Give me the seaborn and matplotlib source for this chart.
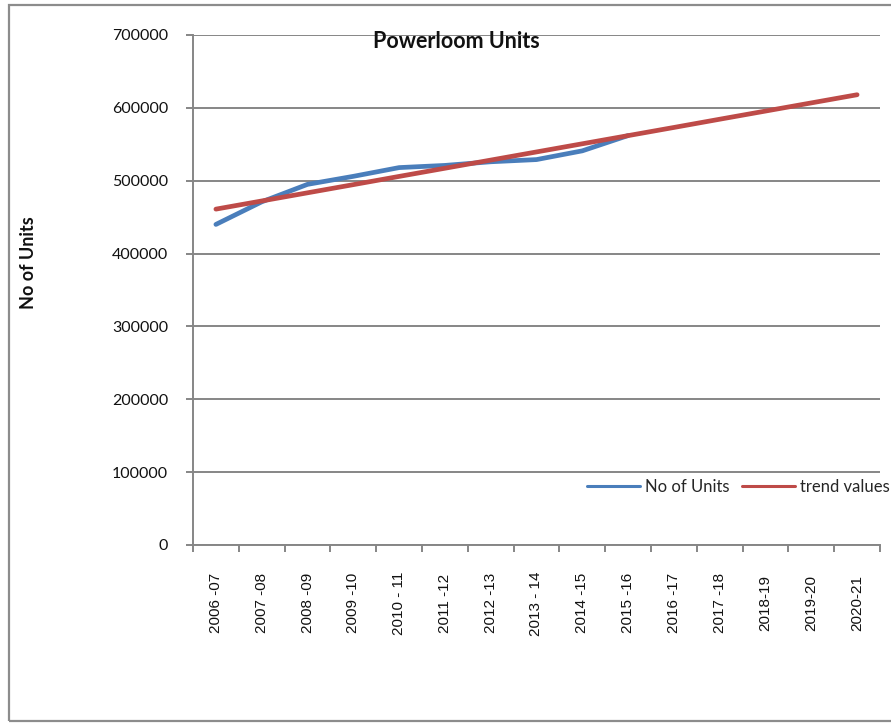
import matplotlib
matplotlib.use("Agg")
import matplotlib.pyplot as plt
import matplotlib.patches as mpatches
import seaborn as sns
import pandas as pd

# Powerloom units per year with fitted linear trend
years = ["2006 -07", "2007 -08", "2008 -09", "2009 -10", "2010 - 11",
         "2011 -12", "2012 -13", "2013 - 14", "2014 -15", "2015 -16",
         "2016 -17", "2017 -18", "2018-19", "2019-20", "2020-21"]
units = [440000, 471000, 495000, 506000, 518000,
         521000, 526000, 529000, 541000, 562000]
trend = [461000, 472200, 483400, 494600, 505900,
         517100, 528300, 539500, 550700, 561900,
         573100, 584400, 595600, 606800, 618000]
yticks = [0, 100000, 200000, 300000, 400000, 500000, 600000, 700000]

BLUE = "#4A7EBB"
RED = "#BE4B48"
GRID = "#868686"

sns.set_theme(style="white")
plt.rcParams["font.family"] = ["Lato", "DejaVu Sans"]

df = pd.DataFrame({
    "year": years[:len(units)] + years,
    "x": list(range(len(units))) + list(range(len(years))),
    "value": units + trend,
    "series": ["No of Units"] * len(units) + ["trend values"] * len(trend),
})

fig = plt.figure(figsize=(8.91, 7.25), dpi=100)
ax = fig.add_axes([193 / 891, 1 - 545 / 725, 687 / 891, 510 / 725])

sns.lineplot(data=df, x="x", y="value", hue="series",
             palette={"No of Units": BLUE, "trend values": RED},
             linewidth=3.4, ax=ax, legend=False, sort=False,
             solid_capstyle="round", solid_joinstyle="round")

ax.set_xlim(-0.5, len(years) - 0.5)
ax.set_ylim(0, 700000)
ax.set_yticks(yticks)
ax.set_yticklabels([str(v) for v in yticks], fontsize=11.5, color="#111111")
ax.yaxis.grid(True, color=GRID, linewidth=1.4)
ax.set_axisbelow(True)

# category ticks on boundaries, labels centred in each slot
ax.set_xticks([i - 0.5 for i in range(len(years) + 1)], minor=False)
ax.set_xticklabels([])
ax.set_xticks(range(len(years)), minor=True)
ax.set_xticklabels(years, minor=True, rotation=90, fontsize=11,
                   family="Liberation Sans", color="#111111", va="center")
ax.tick_params(axis="x", which="minor", length=0, pad=42)
ax.tick_params(axis="x", which="major", length=5, width=1.4, color=GRID,
               direction="out", bottom=True)
ax.tick_params(axis="y", length=5, width=1.4, color=GRID, direction="out",
               left=True, pad=13)

for side in ("top", "right"):
    ax.spines[side].set_visible(False)
for side in ("left", "bottom"):
    ax.spines[side].set_color(GRID)
    ax.spines[side].set_linewidth(1.4)

ax.set_xlabel("")
ax.set_ylabel("")

fig.text(456 / 891, 1 - 42 / 725, "Powerloom Units", ha="center", va="center",
         fontsize=15.5, fontweight="bold", color="#111111")
fig.text(29 / 891, 1 - 263 / 725, "No of Units", ha="center", va="center",
         rotation=90, fontsize=13, fontweight="bold", color="#111111")

handles = [plt.Line2D([], [], color=BLUE, linewidth=2.2),
           plt.Line2D([], [], color=RED, linewidth=2.2)]
fig.legend(handles, ["No of Units", "trend values"], loc="center left",
           bbox_to_anchor=(587 / 891, 1 - 487 / 725), ncol=2, frameon=False,
           fontsize=12, borderpad=0, borderaxespad=0, handlelength=3.2,
           handletextpad=0.3, columnspacing=0.7)

# outer chart border
fig.patches.append(mpatches.Rectangle((8.5 / 891, 1 - 721 / 725), 1.0,
                                      716 / 725, transform=fig.transFigure,
                                      fill=False, edgecolor="#8C8C8C",
                                      linewidth=1.6))

fig.savefig("out.png", dpi=100)
